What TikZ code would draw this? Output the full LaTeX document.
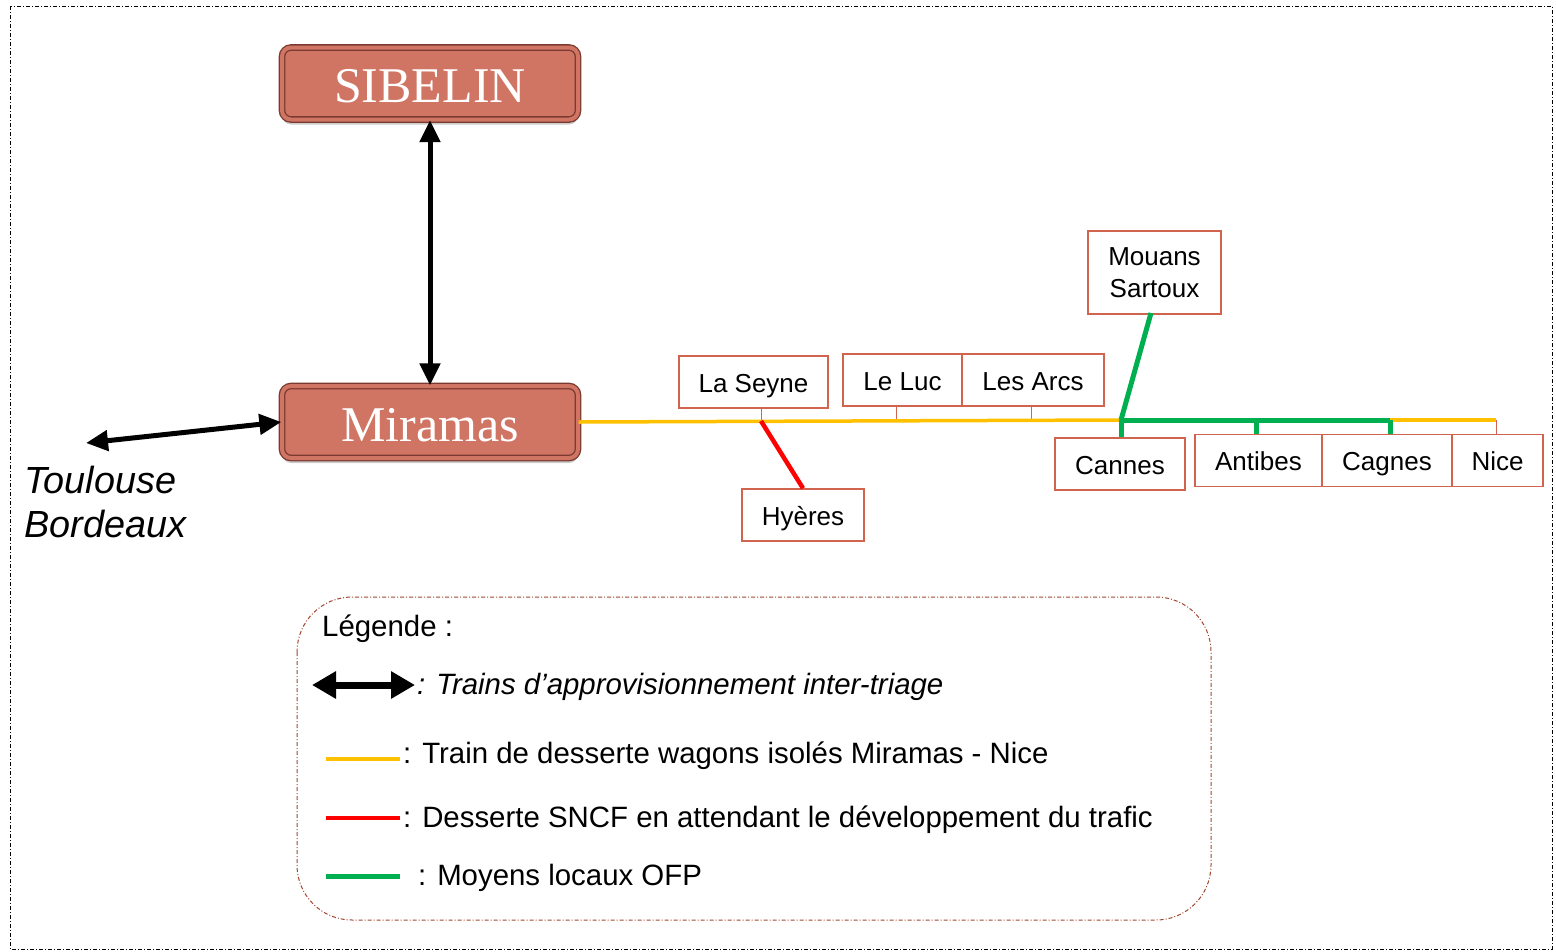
\documentclass[tikz,border=0pt]{standalone}
\usepackage{fontspec}
\setmainfont{Liberation Sans}
\newfontfamily\boxserif{Liberation Serif}
\usetikzlibrary{arrows.meta,shadows}
\definecolor{salmon}{HTML}{D07563}
\definecolor{salmondark}{HTML}{7A3A30}
\definecolor{stationred}{HTML}{D0644E}
\definecolor{ylw}{HTML}{FFC000}
\definecolor{grn}{HTML}{00B050}
\definecolor{legbrown}{HTML}{A0462E}
\tikzset{
  hub/.style={rectangle, rounded corners=9pt, minimum width=296pt, minimum height=72pt,
    fill=salmon, draw=salmondark, double=salmon, double distance=4pt, line width=1.3pt,
    text=white, font=\boxserif\fontsize{50}{55}\selectfont, text height=44pt, text depth=6pt,
    drop shadow={opacity=0.4, shadow xshift=0pt, shadow yshift=-5pt}},
  station/.style={rectangle, draw=stationred, line width=1.4pt, fill=white, inner sep=0pt,
    minimum height=52pt, align=center, font=\fontsize{26}{32}\selectfont,
    text height=24pt, text depth=4pt},
  bigarrow/.style={line width=5pt, {Triangle[length=22pt,width=20pt]}-{Triangle[length=22pt,width=20pt]}},
  tick/.style={draw=stationred, line width=1pt},
  yline/.style={draw=ylw, line width=3.5pt},
  rline/.style={draw=red, line width=4.5pt},
  gline/.style={draw=grn, line width=5pt},
  legtext/.style={anchor=west, inner sep=0pt, font=\fontsize{29.4}{34}\selectfont},
}
\begin{document}
\begin{tikzpicture}[x=1pt,y=-1pt]
\useasboundingbox (0,0) rectangle (1556,951);
% outer frame
\draw[black, line width=1pt, dash pattern=on 4pt off 2pt on 1pt off 2pt] (10,6) rectangle (1552,949);

% hubs
\node[hub] (sib) at (430,83.5) {SIBELIN};
\node[hub] (mir) at (430,422) {Miramas};

% vertical arrow
\draw[bigarrow] (sib.south) -- (mir.north);

% Toulouse arrow
\coordinate (tl) at (86,443);
\draw[bigarrow] (tl) -- (mir.west);
\node[anchor=west, align=left, inner sep=0pt, font=\itshape\fontsize{37.8}{44}\selectfont] (tb) at (24,502) {Toulouse\\Bordeaux};

% stations
\node[station, minimum width=149pt] (seyne) at (753.5,382) {La Seyne};
\node[station, minimum width=122pt] (hyeres) at (803,515) {Hyères};
\node[station, minimum width=119pt] (luc) at (902.5,380) {Le Luc};
\node[station, minimum width=142pt] (arcs) at (1033,380) {Les Arcs};
\node[station, minimum width=133pt, minimum height=83pt, text height=, text depth=] (mouans) at (1154.5,272.5) {Mouans\\Sartoux};
\node[station, minimum width=130pt] (cannes) at (1120,464) {Cannes};
\node[station, minimum width=127pt] (antibes) at (1258.5,460.5) {Antibes};
\node[station, minimum width=130pt] (cagnes) at (1387,460.5) {Cagnes};
\node[station, minimum width=91pt] (nice) at (1497.5,460.5) {Nice};

% junction coordinates on the line
\coordinate (jseyne) at (761,421);
\coordinate (jluc) at (896,420.7);
\coordinate (jarcs) at (1031,420.3);
\coordinate (jcannes) at (1121,420);
\coordinate (jantibes) at (1256,420);
\coordinate (jcagnes) at (1390,420);
\coordinate (jnice) at (1496,420);
\coordinate (jmouans) at (1151,313);

% thin ticks
\draw[tick] (seyne.south -| jseyne) -- (jseyne);
\draw[tick] (luc.south -| jluc) -- (jluc);
\draw[tick] (arcs.south -| jarcs) -- (jarcs);
\draw[tick] (jnice) -- (nice.north -| jnice);

% yellow line
\draw[yline] (mir.east) -- (jcannes);
\draw[yline] (jcagnes) -- (jnice);

% red line
\draw[rline] (jseyne) -- (hyeres.north);

% green lines
\draw[gline] (jmouans) -- (jcannes);
\draw[gline] (jcannes) -- (jcagnes);
\draw[gline] (jcannes) -- (cannes.north -| jcannes);
\draw[gline] (jantibes) -- (antibes.north -| jantibes);
\draw[gline] (jcagnes) -- (cagnes.north -| jcagnes);

% legend box
\draw[legbrown, line width=1pt, dash pattern=on 4pt off 2pt on 1pt off 2pt, rounded corners=55pt] (297,597) rectangle (1211,920);
\node[legtext] (legtitle) at (322,629) {Légende :};

\coordinate (la1) at (312,685);
\coordinate (la2) at (415,685);
\draw[line width=7pt, {Triangle[length=24pt,width=26pt]}-{Triangle[length=24pt,width=26pt]}] (la1) -- (la2);
\node[legtext, font=\itshape\fontsize{29.4}{34}\selectfont] (legarrow) at (417,687) {: Trains d’approvisionnement inter-triage};

\coordinate (ly1) at (326,759);
\coordinate (ly2) at (400,759);
\draw[yline] (ly1) -- (ly2);
\node[legtext] (legy) at (403,756) {: Train de desserte wagons isolés Miramas - Nice};

\coordinate (lr1) at (326,818);
\coordinate (lr2) at (400,818);
\draw[draw=red, line width=4pt] (lr1) -- (lr2);
\node[legtext] (legr) at (403,820) {: Desserte SNCF en attendant le développement du trafic};

\coordinate (lg1) at (326,876);
\coordinate (lg2) at (400,876);
\draw[gline] (lg1) -- (lg2);
\node[legtext] (legg) at (418,878) {: Moyens locaux OFP};
\end{tikzpicture}
\end{document}
